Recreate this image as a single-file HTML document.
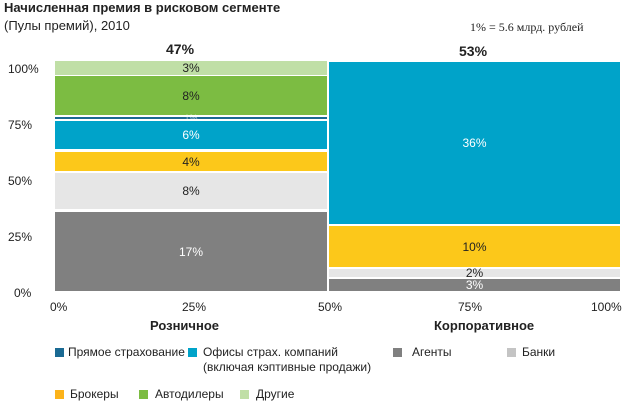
<!DOCTYPE html>
<html><head><meta charset="utf-8"><style>
body{margin:0;width:635px;height:416px;background:#fff;font-family:"Liberation Sans",sans-serif;position:relative;overflow:hidden}
div{position:absolute}
.s{display:flex;align-items:center;justify-content:center;font-size:12px;color:#222}
.w{color:#fff}
.t{font-size:12px;color:#222}
.sw{width:9px;height:9px}
</style></head><body>
<div style="left:4px;top:0px;font-size:13px;font-weight:bold;color:#222">Начисленная премия в рисковом сегменте</div>
<div style="left:4px;top:18px;font-size:13px;color:#222">(Пулы премий), 2010</div>
<div style="left:470px;top:20px;font-size:12px;font-family:'Liberation Serif',serif;color:#222">1% = 5.6 млрд. рублей</div>
<div style="left:166px;top:41px;font-size:14px;font-weight:bold;color:#222">47%</div>
<div style="left:459px;top:43px;font-size:14px;font-weight:bold;color:#222">53%</div>

<div class="t" style="left:8px;top:62px">100%</div>
<div class="t" style="left:8px;top:118px">75%</div>
<div class="t" style="left:8px;top:174px">50%</div>
<div class="t" style="left:8px;top:230px">25%</div>
<div class="t" style="left:14px;top:286px">0%</div>

<div class="s" style="left:55px;top:61px;width:272px;height:14px;background:#c0dfa6">3%</div>
<div class="s" style="left:55px;top:76px;width:272px;height:39px;background:#7cbc42">8%</div>
<div style="left:55px;top:117px;width:272px;height:2px;background:#1a6a93"></div>
<div class="s w" style="left:55px;top:113px;width:272px;height:10px;font-size:9px;opacity:.6">1%</div>
<div class="s w" style="left:55px;top:121px;width:272px;height:28px;background:#00a3c9">6%</div>
<div class="s" style="left:55px;top:152px;width:272px;height:19px;background:#fcc81a">4%</div>
<div class="s" style="left:55px;top:173px;width:272px;height:36px;background:#e6e6e6">8%</div>
<div class="s w" style="left:55px;top:212px;width:272px;height:79px;background:#808080">17%</div>

<div class="s w" style="left:329px;top:62px;width:291px;height:162px;background:#00a3c9">36%</div>
<div class="s" style="left:329px;top:226px;width:291px;height:41px;background:#fcc81a">10%</div>
<div class="s" style="left:329px;top:269px;width:291px;height:8px;background:#e6e6e6">2%</div>
<div class="s w" style="left:329px;top:279px;width:291px;height:12px;background:#808080">3%</div>

<div class="t" style="left:50px;top:300px">0%</div>
<div class="t" style="left:182px;top:300px">25%</div>
<div class="t" style="left:318px;top:300px">50%</div>
<div class="t" style="left:458px;top:300px">75%</div>
<div class="t" style="left:591px;top:300px">100%</div>
<div style="left:150px;top:318px;font-size:13px;font-weight:bold;color:#222">Розничное</div>
<div style="left:434px;top:318px;font-size:13px;font-weight:bold;color:#222">Корпоративное</div>

<div class="sw" style="left:55px;top:348px;background:#1a6a93"></div>
<div class="t" style="left:68px;top:345px">Прямое страхование</div>
<div class="sw" style="left:188px;top:348px;background:#00a3c9"></div>
<div class="t" style="left:203px;top:345px">Офисы страх. компаний</div>
<div class="t" style="left:203px;top:360px">(включая кэптивные продажи)</div>
<div class="sw" style="left:393px;top:348px;background:#808080"></div>
<div class="t" style="left:412px;top:345px">Агенты</div>
<div class="sw" style="left:507px;top:348px;background:#c4c4c4"></div>
<div class="t" style="left:522px;top:345px">Банки</div>

<div class="sw" style="left:55px;top:390px;background:#fcb31a"></div>
<div class="t" style="left:70px;top:387px">Брокеры</div>
<div class="sw" style="left:139px;top:390px;background:#7cbc42"></div>
<div class="t" style="left:155px;top:387px">Автодилеры</div>
<div class="sw" style="left:240px;top:390px;background:#c0dfa6"></div>
<div class="t" style="left:256px;top:387px">Другие</div>
</body></html>
